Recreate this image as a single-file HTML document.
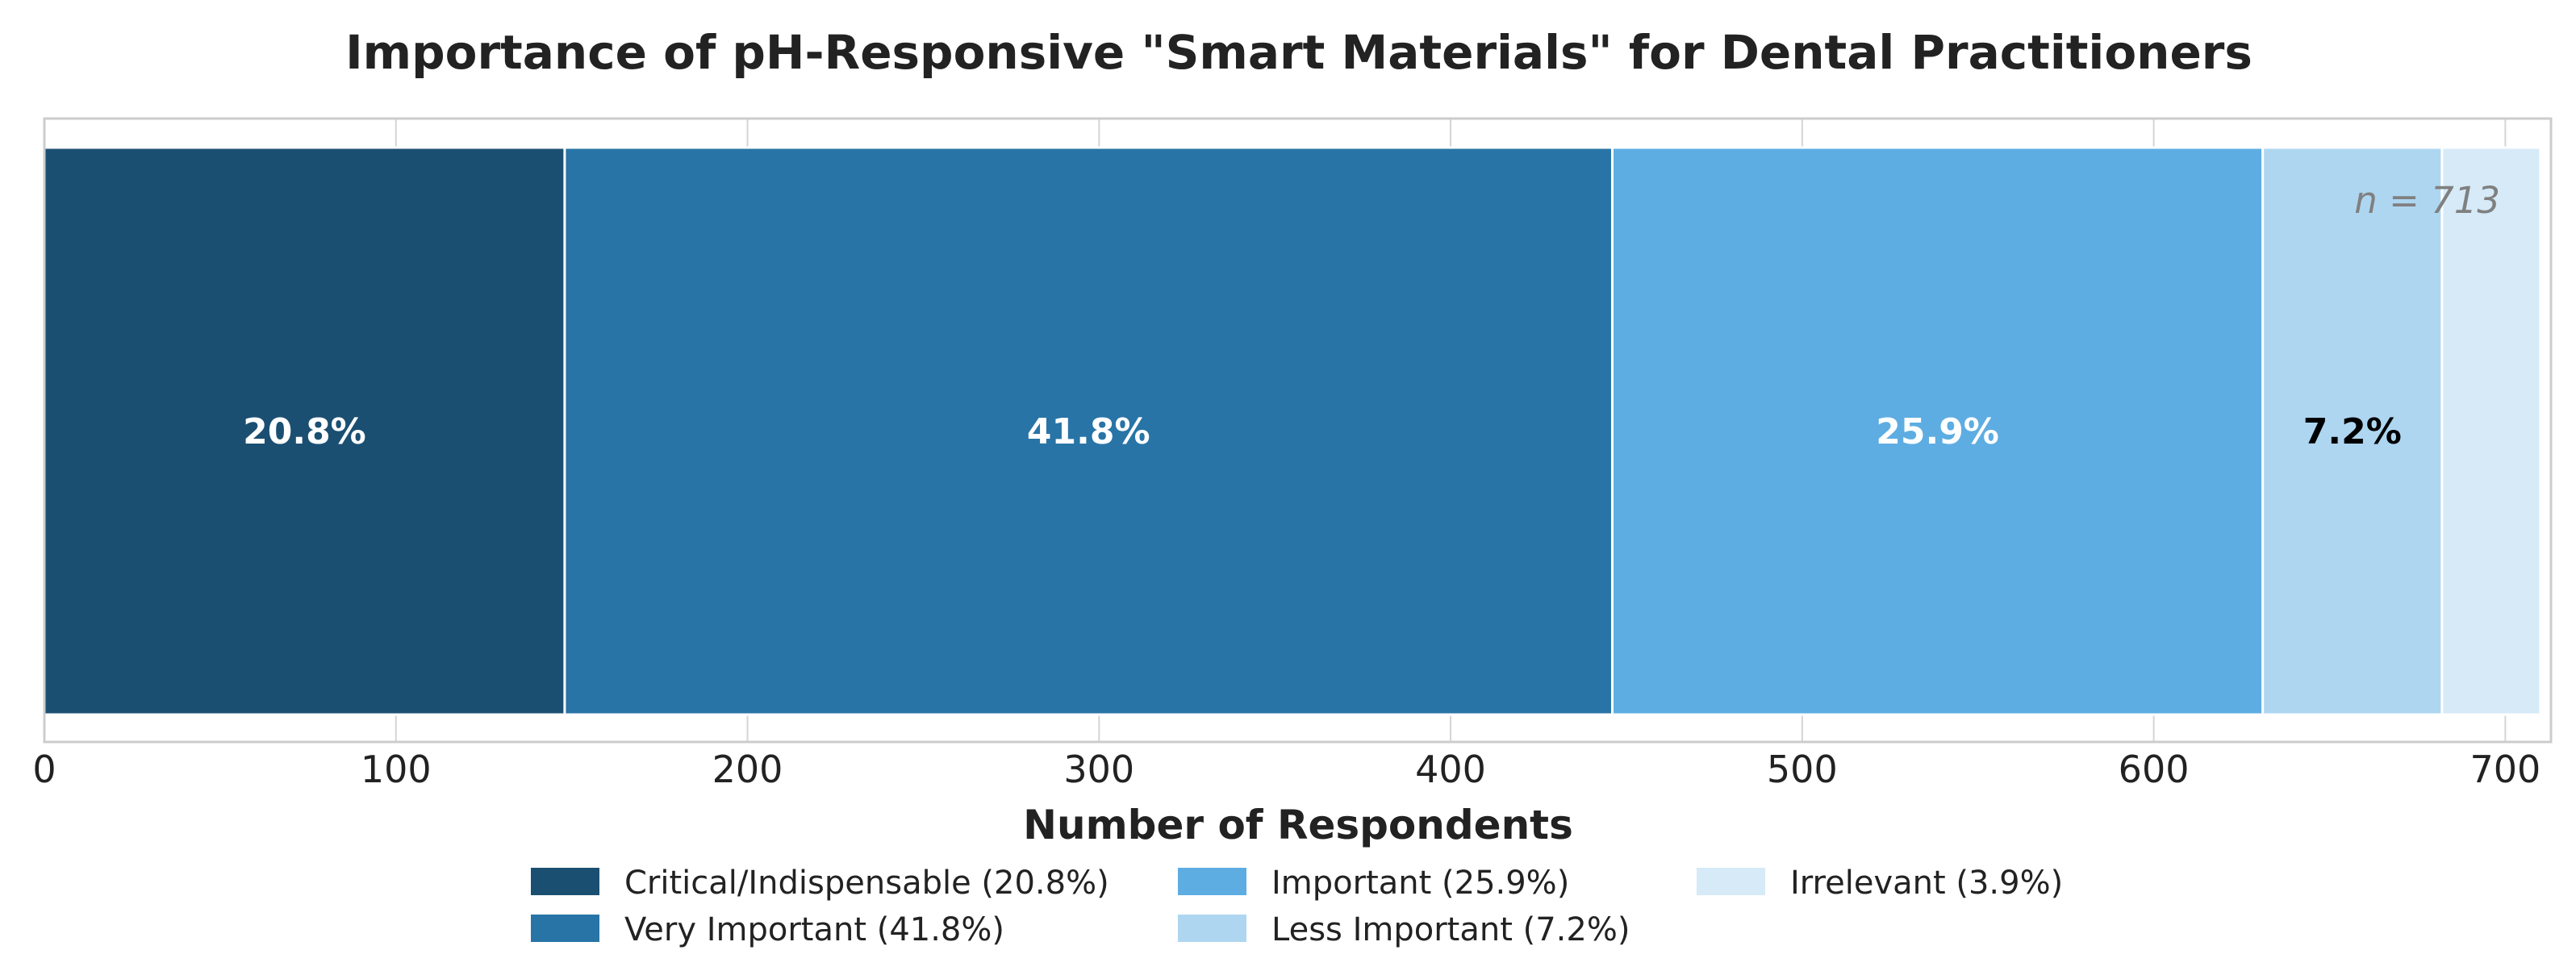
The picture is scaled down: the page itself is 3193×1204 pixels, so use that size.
<!DOCTYPE html>
<html><head><meta charset="utf-8"><style>
html,body{margin:0;padding:0;background:#fff;}
svg{display:block;font-family:"DejaVu Sans","Liberation Sans",sans-serif;}
</style></head><body>
<svg id="chart" width="3193" height="1204" viewBox="0 0 3193 1204" xmlns="http://www.w3.org/2000/svg">
<text x="1610" y="85" text-anchor="middle" font-size="58" font-weight="bold" fill="#222">Importance of pH-Responsive "Smart Materials" for Dental Practitioners</text>
<g id="grid"></g>
<g id="bars"></g>
<rect x="55" y="147" width="3107" height="773" fill="none" stroke="#cccccc" stroke-width="3"/>
<g id="ticks"></g>
<text x="3099" y="264" text-anchor="end" font-size="45" font-style="italic" fill="#808080">n = 713</text>
<text x="1609" y="1040" text-anchor="middle" font-size="50" font-weight="bold" fill="#222">Number of Respondents</text>
<g id="legend"></g>
</svg>
<script>
const categories = ["Critical/Indispensable", "Very Important", "Important", "Less Important", "Irrelevant"];
const counts = [148, 298, 185, 51, 28];
const percents = ["20.8%", "41.8%", "25.9%", "7.2%", "3.9%"];
const tickValues = [0, 100, 200, 300, 400, 500, 600, 700];
const total = 713;
const colors = ["#1b4f72", "#2874a6", "#5dade2", "#aed6f1", "#d6eaf8"];
const NS = "http://www.w3.org/2000/svg";
const X0 = 55, X1 = 3162, XMAX = 713, BT = 183, BB = 886;
function x(v){ return X0 + v * (X1 - X0) / XMAX; }
function mk(tag, attrs, parent){ const e = document.createElementNS(NS, tag); for (const k in attrs) e.setAttribute(k, attrs[k]); parent.appendChild(e); return e; }
const grid = document.getElementById('grid'), bars = document.getElementById('bars'), ticks = document.getElementById('ticks'), legend = document.getElementById('legend');
tickValues.forEach(t => {
  const gl = mk('line', {x1: x(t), x2: x(t), y1: 147, y2: 920, stroke: '#d5d5d5', 'stroke-width': 2}, grid);
  
  
  const tl = mk('text', {x: x(t), y: 970, 'text-anchor': 'middle', 'font-size': 46, fill: '#222'}, ticks);
  tl.textContent = t;
  
  
});
let cum = 0;
counts.forEach((c, i) => {
  const r = mk('rect', {x: x(cum), y: BT, width: x(cum + c) - x(cum), height: BB - BT, fill: colors[i], stroke: '#fff', 'stroke-width': 3}, bars);
  
  
  if (c / total > 0.05) {
    const lb = mk('text', {x: (x(cum) + x(cum + c)) / 2, y: 550, 'text-anchor': 'middle', 'font-size': 44, 'font-weight': 'bold', fill: i < 3 ? '#fff' : '#000'}, bars);
    lb.textContent = percents[i];
    
    
  }
  cum += c;
});
const colX = [658, 1460, 2103], rowY = [1076, 1134];
categories.forEach((cat, i) => {
  const col = Math.floor(i / 2), row = i % 2;
  const sw = mk('rect', {x: colX[col], y: rowY[row], width: 85, height: 34, fill: colors[i]}, legend);
  
  
  const tx = mk('text', {x: colX[col] + 116, y: rowY[row] + 32, 'font-size': 40, fill: '#222'}, legend);
  tx.textContent = cat + " (" + percents[i] + ")";
  
  
});
</script>
</body></html>
